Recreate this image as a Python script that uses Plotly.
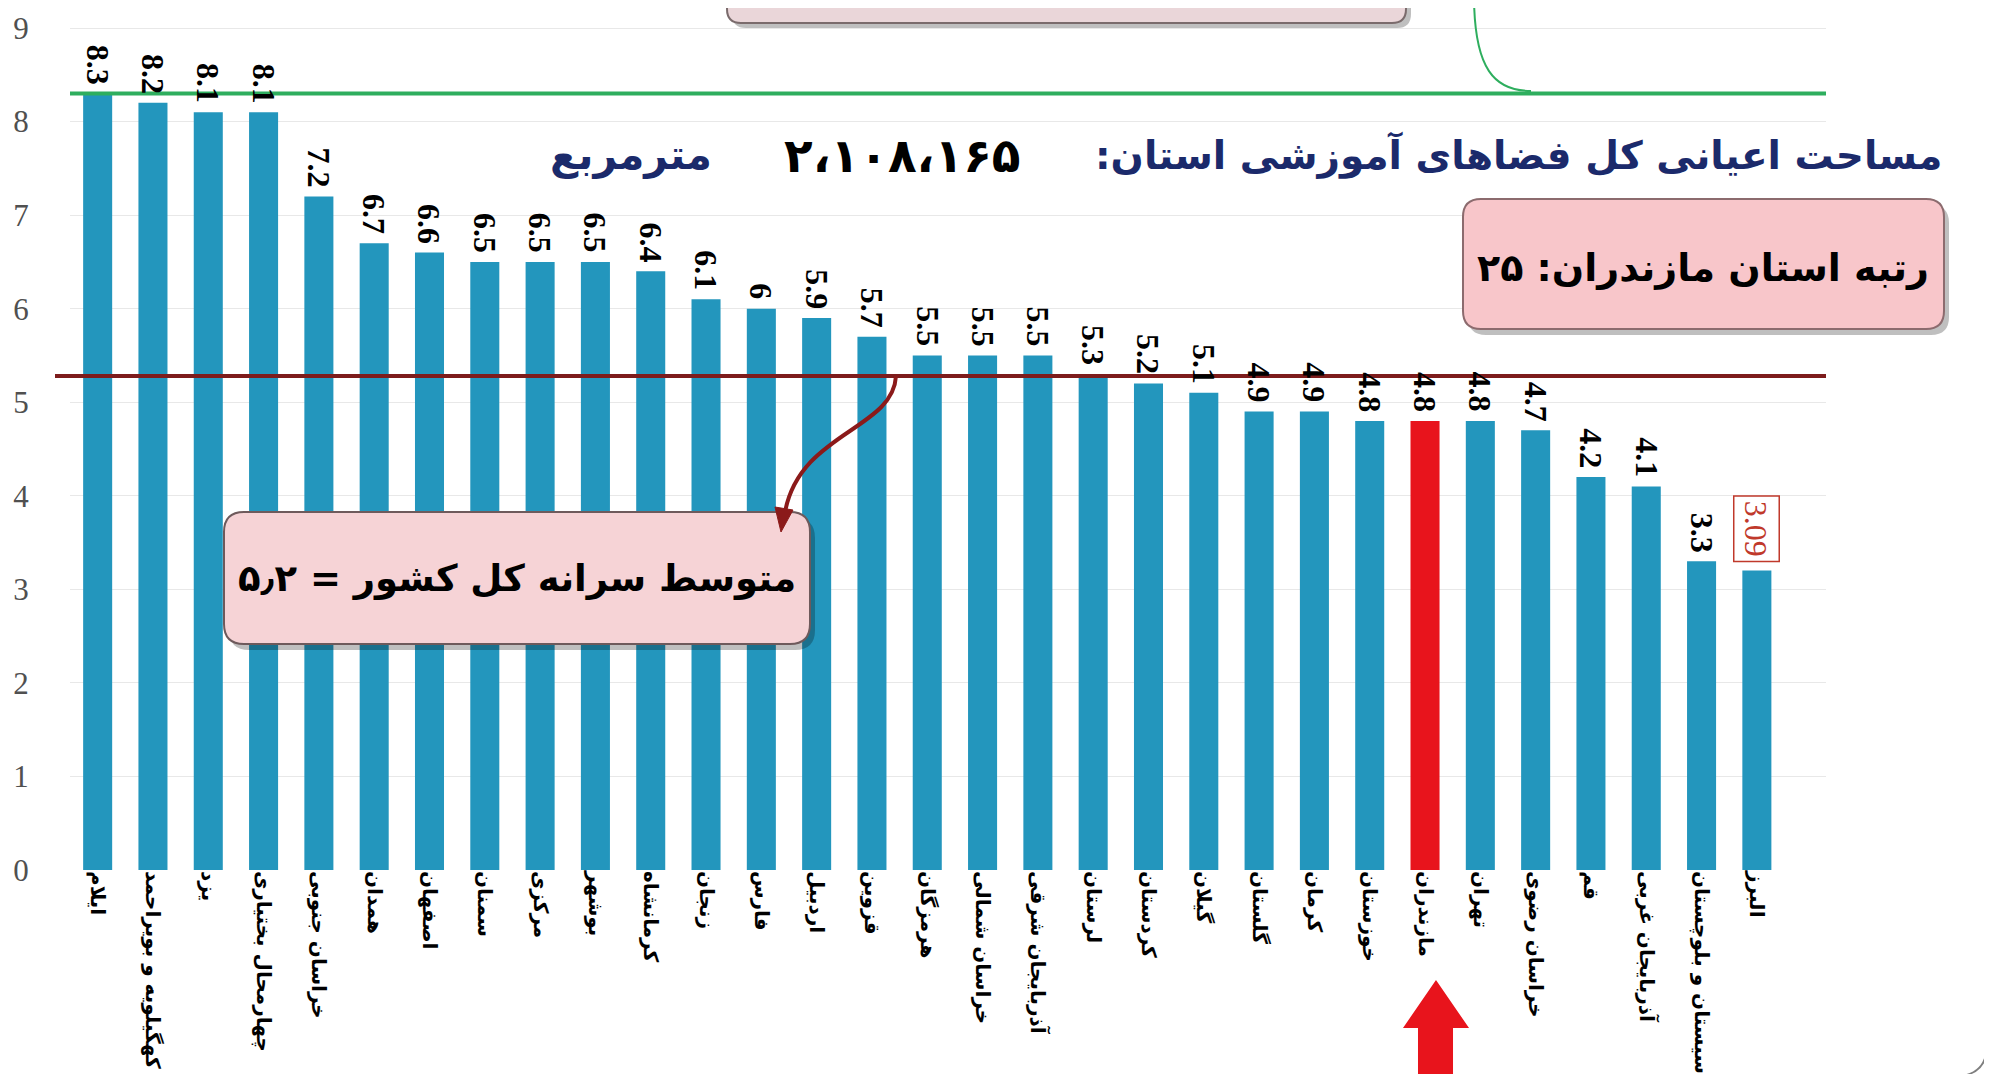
import plotly.graph_objects as go

# provinces, ordered as in the chart
provinces = [
    "ایلام", "کهگیلویه و بویراحمد", "یزد", "چهارمحال بختیاری", "خراسان جنوبی",
    "همدان", "اصفهان", "سمنان", "مرکزی", "بوشهر", "کرمانشاه", "زنجان", "فارس",
    "اردبیل", "قزوین", "هرمزگان", "خراسان شمالی", "آذربایجان شرقی", "لرستان",
    "کردستان", "گیلان", "گلستان", "کرمان", "خوزستان", "مازندران", "تهران",
    "خراسان رضوی", "قم", "آذربایجان غربی", "سیستان و بلوچستان", "البرز",
]
values = [8.3, 8.2, 8.1, 8.1, 7.2, 6.7, 6.6, 6.5, 6.5, 6.5, 6.4, 6.1, 6.0, 5.9,
          5.7, 5.5, 5.5, 5.5, 5.3, 5.2, 5.1, 4.9, 4.9, 4.8, 4.8, 4.8, 4.7, 4.2,
          4.1, 3.3, 3.2]
value_labels = ["8.3", "8.2", "8.1", "8.1", "7.2", "6.7", "6.6", "6.5", "6.5",
                "6.5", "6.4", "6.1", "6", "5.9", "5.7", "5.5", "5.5", "5.5",
                "5.3", "5.2", "5.1", "4.9", "4.9", "4.8", "4.8", "4.8", "4.7",
                "4.2", "4.1", "3.3", "3.09"]
y_ticks = [0, 1, 2, 3, 4, 5, 6, 7, 8, 9]
highlight = "مازندران"
max_line = 8.3      # green line (top value)
avg_line = 5.28     # dark red line (country average)

TEAL = "#2396BD"
RED = "#E8141C"

# page has an 8px body margin, figure is shifted by it
OFF = 8
W, H = 1992, 1074
# plot area in page pixels
L, R, PT, B = 70, 1826, OFF, 870
unit = (870 - 28) / 9.0
y_top = 9 + (28 - PT) / unit


def px(x):
    return (x - L) / (R - L)


def py(y):
    return (B - y) / (B - PT)


def path(points, close=True):
    s = "M " + " L ".join(f"{px(x):.5f},{py(y):.5f}" for x, y in points)
    return s + (" Z" if close else "")


def rrect(x0, y0, x1, y1, r):
    p = lambda x, y: f"{px(x):.5f},{py(y):.5f}"
    return (f"M {p(x0 + r, y0)} L {p(x1 - r, y0)} Q {p(x1, y0)} {p(x1, y0 + r)} "
            f"L {p(x1, y1 - r)} Q {p(x1, y1)} {p(x1 - r, y1)} L {p(x0 + r, y1)} "
            f"Q {p(x0, y1)} {p(x0, y1 - r)} L {p(x0, y0 + r)} Q {p(x0, y0)} {p(x0 + r, y0)} Z")


colors = [RED if p == highlight else TEAL for p in provinces]

fig = go.Figure(go.Bar(
    x=provinces, y=values,
    marker=dict(color=colors, line=dict(width=0)),
    hoverinfo="x+y",
))

shapes = []
annotations = []

# value labels above bars
for p, v, lab in zip(provinces[:-1], values[:-1], value_labels[:-1]):
    annotations.append(dict(
        x=p, y=v, xref="x", yref="y", text=f"<b>{lab}</b>", showarrow=False,
        textangle=90, yanchor="bottom", yshift=7,
        font=dict(family="Liberation Serif", size=32, color="black"),
    ))
annotations.append(dict(
    x=provinces[-1], y=values[-1], xref="x", yref="y",
    text=value_labels[-1], showarrow=False, textangle=90,
    yanchor="bottom", yshift=8, bordercolor="#C0392B", borderwidth=1.5,
    borderpad=4, bgcolor="white",
    font=dict(family="Liberation Serif", size=32, color="#C0392B"),
))

# reference lines
shapes.append(dict(type="line", xref="paper", yref="y", x0=0, x1=1,
                   y0=max_line, y1=max_line, line=dict(color="#2EAE5E", width=4)))
shapes.append(dict(type="line", xref="paper", yref="y", x0=px(55), x1=1,
                   y0=avg_line, y1=avg_line, line=dict(color="#7D1C1C", width=4)))

# top callout box (cut off) with its green connector
shapes.append(dict(type="path", xref="paper", yref="paper",
                   path=rrect(732, -40, 1411, 28, 14), fillcolor="rgba(0,0,0,0.25)",
                   line=dict(width=0)))
shapes.append(dict(type="path", xref="paper", yref="paper",
                   path=rrect(727, -40, 1406, 23, 14), fillcolor="#EAD6D9",
                   line=dict(color="#7A6B6C", width=2)))
shapes.append(dict(type="path", xref="paper", yref="paper",
                   path=f"M {px(1474):.5f},{py(-5):.5f} C {px(1474):.5f},{py(70):.5f} "
                        f"{px(1495):.5f},{py(91):.5f} {px(1531):.5f},{py(91):.5f}",
                   line=dict(color="#2EAE5E", width=2)))

# rank box
shapes.append(dict(type="path", xref="paper", yref="paper",
                   path=rrect(1468, 205, 1949, 335, 18), fillcolor="rgba(0,0,0,0.25)",
                   line=dict(width=0)))
shapes.append(dict(type="path", xref="paper", yref="paper",
                   path=rrect(1463, 199, 1944, 329, 18), fillcolor="#F8C6CA",
                   line=dict(color="#8C6B6E", width=2)))

# average box
shapes.append(dict(type="path", xref="paper", yref="paper",
                   path=rrect(229, 518, 815, 650, 20), fillcolor="rgba(0,0,0,0.25)",
                   line=dict(width=0)))
shapes.append(dict(type="path", xref="paper", yref="paper",
                   path=rrect(224, 512, 810, 644, 20), fillcolor="#F6D3D6",
                   line=dict(color="#6E5A5C", width=2)))

# curved arrow from the average line to the box
shapes.append(dict(type="path", xref="paper", yref="paper",
                   path=f"M {px(896):.5f},{py(376):.5f} C {px(893):.5f},{py(430):.5f} "
                        f"{px(800):.5f},{py(432):.5f} {px(785):.5f},{py(512):.5f}",
                   line=dict(color="#8B1A1A", width=4)))
shapes.append(dict(type="path", xref="paper", yref="paper",
                   path=path([(781, 532), (793, 510), (775, 507)]),
                   fillcolor="#8B1A1A", line=dict(color="#8B1A1A", width=1)))

# red arrow under Mazandaran
shapes.append(dict(type="path", xref="paper", yref="paper",
                   path=path([(1436, 980), (1469, 1028), (1453, 1028), (1453, 1090),
                              (1418, 1090), (1418, 1028), (1403, 1028)]),
                   fillcolor=RED, line=dict(width=0)))

# slide frame corner
shapes.append(dict(type="path", xref="paper", yref="paper",
                   path=f"M {px(1987):.5f},{py(990):.5f} L {px(1987):.5f},{py(1045):.5f} "
                        f"Q {px(1987):.5f},{py(1072):.5f} {px(1962):.5f},{py(1076):.5f}",
                   line=dict(color="#7F7F7F", width=2)))

# texts
annotations += [
    dict(x=px(1944), y=py(155), xref="paper", yref="paper", xanchor="right",
         yanchor="middle", showarrow=False,
         text="<b>مساحت اعیانی کل فضاهای آموزشی استان:\u200f</b>",
         font=dict(family="DejaVu Sans", size=39, color="#1B2A6B")),
    dict(x=px(902), y=py(155), xref="paper", yref="paper", xanchor="center",
         yanchor="middle", showarrow=False, text="<b>۲،۱۰۸،۱۶۵</b>",
         font=dict(family="DejaVu Sans", size=47, color="black")),
    dict(x=px(631), y=py(155), xref="paper", yref="paper", xanchor="center",
         yanchor="middle", showarrow=False, text="<b>مترمربع</b>",
         font=dict(family="DejaVu Sans", size=41, color="#1B2A6B")),
    dict(x=px(1703), y=py(268), xref="paper", yref="paper", xanchor="center",
         yanchor="middle", showarrow=False, text="<b>رتبه استان مازندران: ۲۵</b>",
         font=dict(family="DejaVu Sans", size=38, color="black")),
    dict(x=px(517), y=py(578), xref="paper", yref="paper", xanchor="center",
         yanchor="middle", showarrow=False, text="<b>متوسط سرانه کل کشور = ۵٫۲</b>",
         font=dict(family="DejaVu Sans", size=37, color="black")),
]

fig.update_layout(
    width=W, height=H,
    margin=dict(l=L - OFF, r=W - (R - OFF), t=0, b=H - (B - OFF), pad=0),
    paper_bgcolor="white", plot_bgcolor="white",
    bargap=0.475, showlegend=False,
    shapes=shapes, annotations=annotations,
    xaxis=dict(
        type="category", range=[-0.5, 31.25], tickangle=90,
        tickfont=dict(family="DejaVu Sans", size=20, color="black", weight="bold"),
        showgrid=False, showline=False, ticks="", zeroline=False,
    ),
    yaxis=dict(
        range=[0, y_top], tickvals=y_ticks, showgrid=True, gridcolor="#E8E8E8",
        gridwidth=1, zeroline=False, showline=False,
        ticks="outside", ticklen=34, tickcolor="rgba(0,0,0,0)",
        tickfont=dict(family="Liberation Serif", size=31, color="#505050"),
    ),
)

fig.write_html("out.html")
